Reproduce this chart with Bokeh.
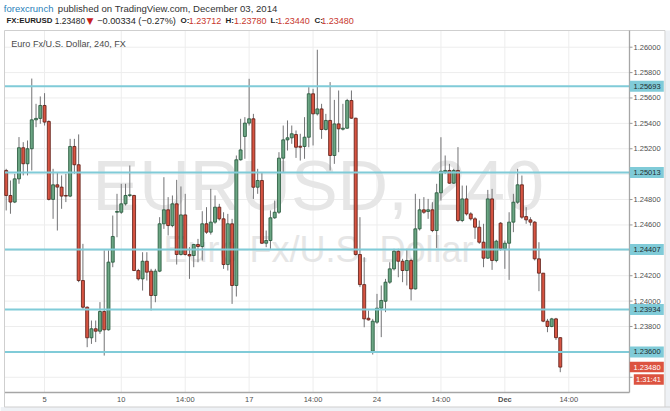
from bokeh.plotting import figure
from bokeh.models import Range1d
from bokeh.embed import file_html
from bokeh.resources import INLINE
from bokeh.core.properties import value

# ---------------- data (EUR/USD, 240 min candles) ----------------
opens = [1.25029, 1.24832, 1.24780, 1.24963, 1.25208, 1.25082, 1.25200, 1.25428, 1.25439, 1.25541,
         1.25415, 1.24801, 1.24916, 1.24898, 1.24832, 1.24827, 1.25218, 1.25074, 1.24162, 1.23952,
         1.23711, 1.23782, 1.23763, 1.23918, 1.23774, 1.24307, 1.24700, 1.24700, 1.24766, 1.24832,
         1.24832, 1.24241, 1.24175, 1.24314, 1.24236, 1.24044, 1.24236, 1.24609, 1.24719, 1.24595,
         1.24766, 1.24367, 1.24679, 1.24367, 1.24359, 1.24446, 1.24430, 1.24609, 1.24543, 1.24622,
         1.24740, 1.24648, 1.24288, 1.24609, 1.24123, 1.25113, 1.25297, 1.25402, 1.25436, 1.24897,
         1.24950, 1.24456, 1.24477, 1.24656, 1.24700, 1.25126, 1.25270, 1.25286, 1.25312, 1.25220,
         1.25218, 1.25291, 1.25633, 1.25475, 1.25514, 1.25352, 1.25423, 1.25147, 1.25396, 1.25354,
         1.25362, 1.25580, 1.25441, 1.24367, 1.24130, 1.23865, 1.23605, 1.23834, 1.23944, 1.23999,
         1.24149, 1.24254, 1.24393, 1.24314, 1.24241, 1.24320, 1.24096, 1.24569, 1.24719, 1.24706,
         1.24719, 1.24556, 1.24853, 1.25018, 1.25029, 1.24929, 1.25029, 1.24635, 1.24805, 1.24687,
         1.24648, 1.24582, 1.24464, 1.24338, 1.24805, 1.24320, 1.24614, 1.24412, 1.24456, 1.24622,
         1.24779, 1.24916, 1.24666, 1.24640, 1.24622, 1.24333, 1.24220, 1.23842, 1.23800, 1.23860,
         1.23712]
highs = [1.25042, 1.24950, 1.25003, 1.25292, 1.25252, 1.25265, 1.25753, 1.25554, 1.25612, 1.25638,
         1.25423, 1.25042, 1.25016, 1.24990, 1.25003, 1.25278, 1.25278, 1.25313, 1.24451, 1.23958,
         1.23847, 1.23847, 1.23992, 1.24399, 1.24399, 1.24674, 1.24845, 1.24924, 1.24924, 1.25068,
         1.24837, 1.24254, 1.24385, 1.24385, 1.24254, 1.24254, 1.24661, 1.24976, 1.24819, 1.24832,
         1.24955, 1.24903, 1.24845, 1.24425, 1.24451, 1.24490, 1.24708, 1.24740, 1.24884, 1.24832,
         1.24766, 1.24700, 1.24687, 1.24648, 1.25147, 1.25436, 1.25449, 1.25751, 1.25475, 1.25042,
         1.25016, 1.24556, 1.24714, 1.24792, 1.25173, 1.25383, 1.25423, 1.25383, 1.25344, 1.25318,
         1.25449, 1.25685, 1.25672, 1.25980, 1.25554, 1.25475, 1.25725, 1.25585, 1.25659, 1.25554,
         1.25593, 1.25659, 1.25444, 1.24661, 1.24346, 1.23926, 1.23860, 1.24057, 1.24123, 1.24175,
         1.24306, 1.24412, 1.24412, 1.24333, 1.24412, 1.24333, 1.24845, 1.24805, 1.24819, 1.24805,
         1.24779, 1.24924, 1.25291, 1.25147, 1.25081, 1.25042, 1.25213, 1.24910, 1.24910, 1.24700,
         1.24661, 1.24635, 1.24609, 1.24876, 1.24884, 1.24483, 1.24622, 1.24477, 1.24700, 1.24845,
         1.25042, 1.24989, 1.24740, 1.24661, 1.24630, 1.24464, 1.24220, 1.23860, 1.23868, 1.23868,
         1.23715]
lows = [1.24714, 1.24688, 1.24772, 1.24924, 1.24990, 1.24990, 1.25029, 1.25370, 1.25397, 1.25383,
        1.24793, 1.24648, 1.24556, 1.24727, 1.24780, 1.24819, 1.25003, 1.24149, 1.23939, 1.23637,
        1.23663, 1.23677, 1.23742, 1.23571, 1.23768, 1.24267, 1.24503, 1.24687, 1.24753, 1.24819,
        1.24236, 1.24162, 1.24083, 1.24162, 1.23926, 1.23991, 1.24228, 1.24569, 1.24517, 1.24582,
        1.24288, 1.24359, 1.24359, 1.24175, 1.24267, 1.24306, 1.24320, 1.24530, 1.24524, 1.24609,
        1.24635, 1.24254, 1.24241, 1.23978, 1.24036, 1.25107, 1.25121, 1.25383, 1.24805, 1.24845,
        1.24451, 1.24425, 1.24412, 1.24648, 1.24687, 1.25016, 1.25186, 1.25239, 1.25128, 1.25107,
        1.25121, 1.25212, 1.25226, 1.25462, 1.25278, 1.25344, 1.25029, 1.25081, 1.25173, 1.25344,
        1.25357, 1.25436, 1.24359, 1.24110, 1.23794, 1.23847, 1.23579, 1.23821, 1.23716, 1.23913,
        1.24136, 1.24241, 1.24188, 1.24149, 1.24123, 1.24005, 1.24091, 1.24556, 1.24687, 1.24648,
        1.24543, 1.24419, 1.24792, 1.25002, 1.24924, 1.24924, 1.24622, 1.24622, 1.24674, 1.24635,
        1.24490, 1.24451, 1.24267, 1.24333, 1.24246, 1.24306, 1.24398, 1.24254, 1.24167, 1.24543,
        1.24766, 1.24648, 1.24609, 1.24595, 1.24320, 1.24078, 1.23834, 1.23755, 1.23794, 1.23694,
        1.23440]
closes = [1.24832, 1.24780, 1.24963, 1.25208, 1.25082, 1.25200, 1.25428, 1.25439, 1.25541, 1.25410,
          1.24801, 1.24916, 1.24898, 1.24827, 1.24827, 1.25218, 1.25074, 1.24162, 1.23952, 1.23711,
          1.23782, 1.23763, 1.23918, 1.23774, 1.24307, 1.24509, 1.24706, 1.24766, 1.24832, 1.24837,
          1.24241, 1.24175, 1.24314, 1.24228, 1.24044, 1.24236, 1.24609, 1.24719, 1.24595, 1.24766,
          1.24367, 1.24679, 1.24367, 1.24356, 1.24446, 1.24430, 1.24609, 1.24543, 1.24622, 1.24740,
          1.24648, 1.24288, 1.24609, 1.24123, 1.25113, 1.25191, 1.25402, 1.25436, 1.24897, 1.24950,
          1.24456, 1.24477, 1.24656, 1.24700, 1.25126, 1.25270, 1.25286, 1.25318, 1.25212, 1.25212,
          1.25291, 1.25633, 1.25475, 1.25514, 1.25352, 1.25423, 1.25147, 1.25396, 1.25357, 1.25362,
          1.25580, 1.25441, 1.24367, 1.24130, 1.23860, 1.23852, 1.23842, 1.23944, 1.24005, 1.24149,
          1.24254, 1.24393, 1.24314, 1.24241, 1.24320, 1.24096, 1.24569, 1.24719, 1.24700, 1.24719,
          1.24556, 1.24853, 1.25023, 1.25029, 1.24929, 1.25029, 1.24635, 1.24805, 1.24687, 1.24648,
          1.24582, 1.24464, 1.24338, 1.24805, 1.24320, 1.24472, 1.24412, 1.24456, 1.24622, 1.24779,
          1.24916, 1.24661, 1.24640, 1.24622, 1.24333, 1.24220, 1.23842, 1.23800, 1.23860, 1.23712,
          1.23480]

tick_candles = [9, 27, 42, 57, 72, 87, 102, 117, 132]
tick_labels = ["5", "10", "14:00", "17", "14:00", "24", "14:00", "Dec", "14:00"]
price_ticks = [1.234, 1.236, 1.238, 1.240, 1.242, 1.244, 1.246, 1.248,
               1.250, 1.252, 1.254, 1.256, 1.258, 1.260]

levels = [1.25693, 1.25013, 1.24407, 1.23934, 1.23600]
last_price = 1.23480
countdown = "1:31:41"

title_text = "Euro Fx/U.S. Dollar, 240, FX"
watermark_1 = "EURUSD, 240"
watermark_2 = "Euro Fx/U.S. Dollar"
header_author = "forexcrunch"
header_rest = "published on TradingView.com, December 03, 2014"
header_texts = ["FX:EURUSD", "1.23480", "\u25bc", "\u22120.00334 (\u22120.27%)",
                "O:", "1.23712", "H:", "1.23780", "L:", "1.23440", "C:", "1.23480"]

# ---------------- styles / layout ----------------
UP_FILL, UP_LINE = "#6ba583", "#225437"
DN_FILL, DN_LINE = "#d75442", "#5b1a13"
WICK = "#737375"
LEVEL = "#80cbd8"
RED_TAG = "#dc5340"
GRID = "#ededed"
BORDER = "#cfcfcf"
AXIS_LINE = "#a6a6a6"
AXIS_TXT = "#505050"
HFONT = "Liberation Sans"
AXFONT = "Liberation Sans"

W, H = 670, 411
# page-pixel calibration of the price/time scales
X0, DX = 5.7, 4.262          # pixel of candle 0, pixels per candle
Y0, P0, DY = 46.7, 1.26, 12695.0


def px(xp):
    return (xp - X0) / DX


def py(yp):
    return P0 - (yp - Y0) / DY


CL, CR, CT, CB = px(4.5), px(629), py(30), py(392)   # chart pane edges

p = figure(width=W, height=H, output_backend="svg", toolbar_location=None, title=None,
           x_range=Range1d(px(0), px(W)), y_range=Range1d(py(H), py(0)),
           x_axis_location=None, y_axis_location=None, min_border=0)
p.outline_line_color = None
p.background_fill_color = "white"
p.border_fill_color = "white"
p.grid.visible = False

# outside strips
p.quad(left=[px(0), px(665)], right=[px(W), px(W)], bottom=[py(H), py(H)],
       top=[py(406.5), py(30)], fill_color="#eef1f5", line_color=None)

# grid
p.segment(x0=tick_candles, y0=[CT] * len(tick_candles), x1=tick_candles,
          y1=[CB] * len(tick_candles), line_color=GRID, line_width=1)
p.segment(x0=[CL] * len(price_ticks), y0=price_ticks, x1=[CR] * len(price_ticks),
          y1=price_ticks, line_color=GRID, line_width=1)

# watermark
p.text(x=[px(317.7)], y=[py(185)], text=[watermark_1], text_align="center",
       text_baseline="middle", text_font=value(AXFONT), text_font_size=value("70px"),
       text_color="#e6e6e6")
p.text(x=[px(318)], y=[py(249)], text=[watermark_2], text_align="center",
       text_baseline="middle", text_font=value(AXFONT), text_font_size=value("36px"),
       text_color="#e6e6e6")

# box borders
p.segment(x0=[px(4), px(4), px(4), px(664.5)], y0=[CT, CT, py(406.5), CT],
          x1=[px(664.5), px(4), px(W), px(664.5)], y1=[CT, py(406.5), py(406.5), py(406.5)],
          line_color=BORDER, line_width=1)

# candles
idx = list(range(len(opens)))
inc = [c >= o for o, c in zip(opens, closes)]
top = [max(o, c) for o, c in zip(opens, closes)]
bot = [min(o, c) for o, c in zip(opens, closes)]
p.segment(x0=idx, y0=highs, x1=idx, y1=lows, line_color=WICK, line_width=1)
p.vbar(x=idx, width=0.7, top=top, bottom=bot,
       fill_color=[UP_FILL if u else DN_FILL for u in inc],
       line_color=[UP_LINE if u else DN_LINE for u in inc], line_width=0.8)

# horizontal levels
p.segment(x0=[CL] * len(levels), y0=levels, x1=[CR] * len(levels), y1=levels,
          line_color=LEVEL, line_width=2)

# axis lines
p.segment(x0=[CR, CL], y0=[CT, CB], x1=[CR, CR], y1=[CB, CB], line_color=AXIS_LINE,
          line_width=1.3)

# price scale ticks & labels
p.ray(x=[CR] * len(price_ticks), y=price_ticks, length=3, length_units="screen", angle=0,
      line_color="#9a9a9a", line_width=1)
p.text(x=[px(633)] * len(price_ticks), y=price_ticks, text=[f"{t:.5f}" for t in price_ticks],
       text_align="left", text_baseline="middle", text_font=value(AXFONT),
       text_font_size=value("7.5px"), text_color=AXIS_TXT)

# level tags
p.rect(x=[px(646.3)] * len(levels), y=levels, width=34, height=11, width_units="screen",
       height_units="screen", fill_color=LEVEL, line_color=None)
p.text(x=[px(633)] * len(levels), y=levels, text=[f"{v:.5f}" for v in levels],
       text_align="left", text_baseline="middle", text_font=value(AXFONT),
       text_font_size=value("7.5px"), text_color="#1f2d30")

# last price tag + countdown
p.rect(x=[px(646.3), px(648.3)], y=[last_price, py(379)], width=[34, 30], height=[10.5, 10.5],
       width_units="screen", height_units="screen", fill_color=RED_TAG, line_color=None)
p.text(x=[px(633), px(635.5)], y=[last_price, py(379)], text=[f"{last_price:.5f}", countdown],
       text_align="left", text_baseline="middle", text_font=value(AXFONT),
       text_font_size=value("7.5px"), text_color="white")

# time scale labels
p.text(x=tick_candles, y=[py(398.5)] * len(tick_candles), text=tick_labels,
       text_align="center", text_baseline="middle", text_font=value(AXFONT),
       text_font_size=value("7.5px"), text_color=AXIS_TXT,
       text_font_style=["bold" if s == "Dec" else "normal" for s in tick_labels])

# chart title inside pane
p.text(x=[px(10.7)], y=[py(43)], text=[title_text], text_align="left", text_baseline="middle",
       text_font=value(HFONT), text_font_size=value("9.1px"), text_color="#4a4a4a")

# header
p.text(x=[px(3.3), px(57.3)], y=[py(7.5), py(7.5)], text=[header_author, header_rest],
       text_align="left", text_baseline="middle", text_font=value(HFONT),
       text_font_size=["9.5px", "9.6px"], text_color=["#2a7fba", "#333333"])
header_x = [6, 54.3, 86, 96.7, 180, 188.3, 225, 233.5, 270, 276.7, 314, 320.7]
header_style = ["bold", "normal", "normal", "normal", "bold", "normal",
                "bold", "normal", "bold", "normal", "bold", "normal"]
header_color = ["#1e1e1e", "#1e1e1e", "#c8231e", "#1e1e1e", "#1e1e1e", "#c8372d",
                "#1e1e1e", "#c8372d", "#1e1e1e", "#c8372d", "#1e1e1e", "#c8372d"]
header_font = ["DejaVu Sans" if t == "\u25bc" else HFONT for t in header_texts]
header_size = ["7.9px", "8.4px", "9px", "9.2px", "8px", "9px",
               "8px", "9px", "8px", "9px", "8px", "9px"]
p.text(x=[px(v) for v in header_x], y=[py(20)] * len(header_texts), text=header_texts,
       text_align="left", text_baseline="middle", text_font=header_font,
       text_font_size=header_size, text_font_style=header_style, text_color=header_color)

open("out.html", "w").write(file_html(p, INLINE))
